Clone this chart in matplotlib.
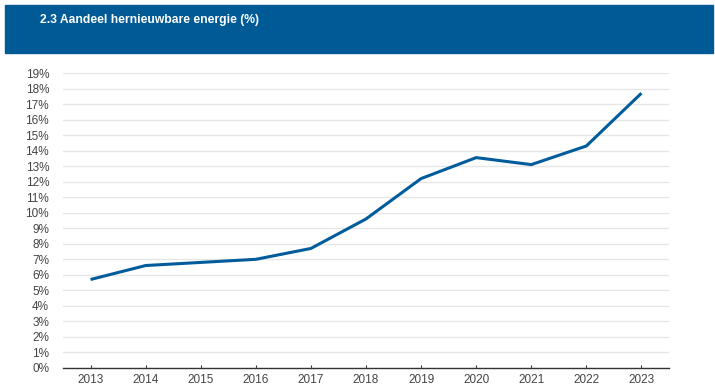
import matplotlib.pyplot as plt
from matplotlib.patches import Rectangle

# Data
years = [2013, 2014, 2015, 2016, 2017, 2018, 2019, 2020, 2021, 2022, 2023]
share = [5.7, 6.6, 6.8, 7.0, 7.7, 9.6, 12.2, 13.55, 13.1, 14.3, 17.7]
title = "2.3 Aandeel hernieuwbare energie (%)"

plt.rcParams['font.family'] = ['Liberation Sans', 'DejaVu Sans']

fig = plt.figure(figsize=(7.15, 3.88), dpi=100)

# header bar
fig.patches.append(Rectangle((5 / 715, 1 - 53 / 388), 708 / 715, 48 / 388,
                             transform=fig.transFigure, color='#005a96', zorder=0))
fig.text(40 / 715, 1 - 19.5 / 388, title, color='white', fontsize=8.7,
         fontweight='bold', va='center', ha='left')

ax = fig.add_axes([63 / 715, 1 - 368 / 388, 606 / 715, 295 / 388])
ax.plot(years, share, color='#005c9b', linewidth=2.2, solid_capstyle='butt',
        solid_joinstyle='miter', zorder=3)

ax.set_xlim(2012.5, 2023.5)
ax.set_ylim(0, 19)
ax.set_xticks(years)
ax.set_xticklabels([str(y) for y in years])
ax.set_yticks(range(0, 20))
ax.set_yticklabels([f"{v}%" for v in range(0, 20)])

ax.grid(axis='y', color='#e6e6e6', linewidth=1)
ax.set_axisbelow(True)
for s in ['top', 'right', 'left']:
    ax.spines[s].set_visible(False)
ax.spines['bottom'].set_color('#333333')
ax.spines['bottom'].set_linewidth(1)

ax.tick_params(axis='y', length=0, pad=10, labelsize=8.5, labelcolor='#444444')
ax.tick_params(axis='x', direction='in', length=2, width=0.8, color='#333333',
               pad=4.5, labelsize=8.5, labelcolor='#444444')

plt.savefig('out.png', dpi=100)
